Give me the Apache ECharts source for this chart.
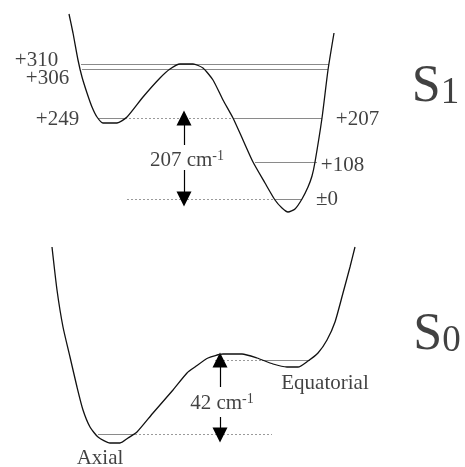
<!DOCTYPE html>
<html><head><meta charset="utf-8">
<script src="https://cdn.jsdelivr.net/npm/echarts@6/dist/echarts.min.js"></script>
<style>html,body{margin:0;padding:0;background:#fff}#c{width:465px;height:467px}</style>
</head><body><div id="c"></div>
<script>
// Schematic potential curves: [coordinate, depth] (depth axis points downward)
const s1Curve = [[69,14],[73,33],[78,60],[82,77],[87,93],[92,107],[97,117],[103,123],[117,123],[127,117],[143,97],[160,78],[170,69],[180,64],[193,64],[203,68],[213,80],[223,100],[233,118],[243,140],[253,162],[265,183],[275,200],[282,208],[288,212],[295,209],[302,199],[308,187],[312,176],[315,162],[322,118],[328,70],[334,33]];
const s0Curve = [[52,247],[57,290],[63,327],[70,357],[77,387],[83,410],[90,427],[98,437],[110,443],[120,443],[128,438],[137,432],[153,413],[173,390],[187,373],[195,367],[208,358],[223,354],[242,354],[257,358],[273,364],[287,367],[298,367],[308,361],[318,353],[327,340],[335,322],[343,293],[350,267],[355,247]];
// vibrational levels: [depth, xStart, xEnd]
const levelLines = [[64,81,329],[69,82,328],[118,98,125],[118,233,322],[162,255,317],[199,275,302],[434,98,135],[360,262,310]];
// reference (dotted) lines: [depth, xStart, xEnd]
const refLines = [[118,125,233],[199,127,275],[434,135,272],[360,215,262]];
// arrows: [x, fromDepth, toDepth]
const arrows = [[184,145,118],[184,170,199],[220,387,360],[220,417,435]];
// level labels
const levelLabels = [['+310',36.5,60],['+306',47.5,78.5],['+249',57.5,119.5],['+207',357.5,119.5],['+108',342.5,165.5],['\u00b10',327,199]];
// barrier labels: [number+unit, superscript, x, y]
const gapLabels = [['207 cm','-1',187,160],['42 cm','-1',222,403]];
// conformer labels
const conformerLabels = [['Equatorial',325,383],['Axial',100,458]];
// state labels: [letter, index, x, y]
const stateLabels = [['S','1',435.5,87.5],['S','0',437,335.5]];

const FONT = 'Liberation Serif';
const chart = echarts.init(document.getElementById('c'));
const lineSeg = (arr) => arr.map(d => ({coords: [[d[1], d[0]], [d[2], d[0]]]}));
chart.setOption({
  animation: false,
  grid: {left: 0, right: 0, top: 0, bottom: 0},
  xAxis: {type: 'value', min: 0, max: 465, show: false},
  yAxis: {type: 'value', min: 0, max: 467, inverse: true, show: false},
  series: [
    {type: 'lines', coordinateSystem: 'cartesian2d', polyline: false, silent: true,
     lineStyle: {color: '#8a8a8a', width: 1, opacity: 1}, data: lineSeg(levelLines)},
    {type: 'lines', coordinateSystem: 'cartesian2d', silent: true,
     lineStyle: {color: '#9a9a9a', width: 1, type: [2, 2], opacity: 1}, data: lineSeg(refLines)},
    {type: 'line', data: s1Curve, showSymbol: false, smooth: 0.2, silent: true,
     lineStyle: {color: '#111', width: 1.3}},
    {type: 'line', data: s0Curve, showSymbol: false, smooth: 0.2, silent: true,
     lineStyle: {color: '#111', width: 1.3}},
    {type: 'lines', coordinateSystem: 'cartesian2d', silent: true,
     symbol: ['none', 'triangle'], symbolSize: [8, 15],
     lineStyle: {color: '#000', width: 1.2, opacity: 1},
     data: arrows.map(a => ({coords: [[a[0], a[1]], [a[0], a[2]]]}))},
    {type: 'scatter', symbolSize: 1, silent: true, itemStyle: {color: 'rgba(0,0,0,0)'},
     label: {show: true, position: 'inside', color: '#111', fontFamily: FONT, fontSize: 21},
     data: [
       ...levelLabels.map(l => ({value: [l[1], l[2]], label: {formatter: l[0]}})),
       ...conformerLabels.map(l => ({value: [l[1], l[2]], label: {formatter: l[0]}})),
       ...gapLabels.map(l => ({value: [l[2], l[3]], label: {
          formatter: '{n|' + l[0] + '}{s|' + l[1] + '}',
          rich: {n: {fontFamily: FONT, fontSize: 21, lineHeight: 21, color: '#111'},
                 s: {fontFamily: FONT, fontSize: 14, lineHeight: 14, verticalAlign: 'top', color: '#111'}}}})),
       ...stateLabels.map(l => ({value: [l[2], l[3]], label: {
          formatter: '{a|' + l[0] + '}{b|' + l[1] + '}',
          rich: {a: {fontFamily: FONT, fontSize: 52, lineHeight: 52, verticalAlign: 'bottom', color: '#111'},
                 b: {fontFamily: FONT, fontSize: 37, lineHeight: 37, verticalAlign: 'bottom', padding: [0, 0, 2, 0], color: '#111'}}}}))
     ]}
  ]
});
</script></body></html>
